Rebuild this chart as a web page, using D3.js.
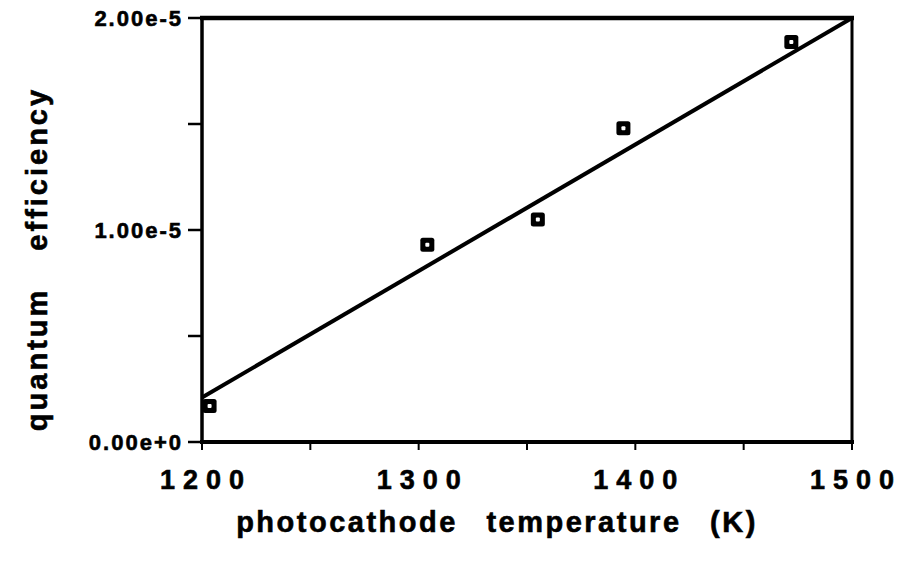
<!DOCTYPE html>
<html>
<head>
<meta charset="utf-8">
<script src="https://cdn.jsdelivr.net/npm/d3@7"></script>
<style>
  body { margin: 0; background: #fff; }
  text { font-family: "Liberation Sans", Arial, sans-serif; font-weight: bold; fill: #000; stroke: #000; stroke-width: 0.6px; }
</style>
</head>
<body>
<div id="chart"></div>
<script>
// measured points
const temperature = [1203.5, 1304, 1355, 1394.5, 1472];
const efficiency = [1.70e-6, 9.30e-6, 1.05e-5, 1.48e-5, 1.887e-5];
// fitted line end points
const fitTemperature = [1200, 1500];
const fitEfficiency = [2.1e-6, 2.0e-5];
// tick values / labels
const xTicks = [1200, 1250, 1300, 1350, 1400, 1450, 1500];
const xLabels = [1200, 1300, 1400, 1500];
const yTicks = [0, 0.5e-5, 1.0e-5, 1.5e-5, 2.0e-5];
const yLabels = ["0.00e+0", "1.00e-5", "2.00e-5"];
const yLabelValues = [0, 1.0e-5, 2.0e-5];

const width = 907, height = 562;
const mLeft = 202, mRight = 852, mTop = 18, mBottom = 442;

const svg = d3.select("#chart").append("svg")
  .attr("width", width)
  .attr("height", height);

const x = d3.scaleLinear().domain([1200, 1500]).range([mLeft, mRight]);
const y = d3.scaleLinear().domain([0, 2e-5]).range([mBottom, mTop]);

// 外框
svg.append("line").attr("x1", mLeft - 2).attr("x2", mRight + 2).attr("y1", mTop).attr("y2", mTop)
  .attr("stroke", "#000").attr("stroke-width", 4.5);
svg.append("line").attr("x1", mLeft - 2).attr("x2", mRight + 2).attr("y1", mBottom).attr("y2", mBottom)
  .attr("stroke", "#000").attr("stroke-width", 4);
svg.append("line").attr("x1", mLeft).attr("x2", mLeft).attr("y1", mTop).attr("y2", mBottom)
  .attr("stroke", "#000").attr("stroke-width", 3.5);
svg.append("line").attr("x1", mRight).attr("x2", mRight).attr("y1", mTop).attr("y2", mBottom)
  .attr("stroke", "#000").attr("stroke-width", 3);

// x 刻度 (向下的小刻度)
svg.selectAll(".xtick").data(xTicks).enter().append("line")
  .attr("x1", d => x(d)).attr("x2", d => x(d))
  .attr("y1", mBottom).attr("y2", mBottom + 8)
  .attr("stroke", "#000").attr("stroke-width", 2);

svg.selectAll(".xlab").data(xLabels).enter().append("text")
  .attr("x", d => x(d) + 4)
  .attr("y", 489)
  .attr("text-anchor", "middle")
  .style("font-size", "27px")
  .style("letter-spacing", "8px")
  .text(d => d);

// y 刻度 (向左)
svg.selectAll(".ytick").data(yTicks).enter().append("line")
  .attr("x1", mLeft - 14).attr("x2", mLeft)
  .attr("y1", d => y(d)).attr("y2", d => y(d))
  .attr("stroke", "#000").attr("stroke-width", 2.5);

svg.selectAll(".ylab").data(yLabelValues).enter().append("text")
  .attr("x", 183)
  .attr("y", d => y(d) + 8)
  .attr("text-anchor", "end")
  .style("font-size", "22px")
  .style("letter-spacing", "2px")
  .text((d, i) => yLabels[i]);

// 拟合直线
svg.append("line")
  .attr("x1", x(fitTemperature[0])).attr("y1", y(fitEfficiency[0]))
  .attr("x2", x(fitTemperature[1])).attr("y2", y(fitEfficiency[1]))
  .attr("stroke", "#000").attr("stroke-width", 4);

// 方形数据点
const pts = svg.selectAll(".pt").data(temperature).enter().append("g")
  .attr("transform", (d, i) => `translate(${x(d)},${y(efficiency[i])})`);
pts.append("rect").attr("x", -7).attr("y", -7).attr("width", 14).attr("height", 14)
  .attr("rx", 2.5).attr("fill", "#000");
pts.append("rect").attr("x", -2).attr("y", -2).attr("width", 4).attr("height", 4)
  .attr("rx", 1).attr("fill", "#fff");

// 坐标轴标题
svg.append("text")
  .attr("x", 497)
  .attr("y", 532)
  .attr("text-anchor", "middle")
  .style("font-size", "29px")
  .style("letter-spacing", "2.5px")
  .style("word-spacing", "18px")
  .text("photocathode temperature (K)");

svg.append("text")
  .attr("transform", "translate(47,259) rotate(-90)")
  .attr("text-anchor", "middle")
  .style("font-size", "29px")
  .style("letter-spacing", "3px")
  .style("word-spacing", "26px")
  .text("quantum efficiency");
</script>
</body>
</html>
